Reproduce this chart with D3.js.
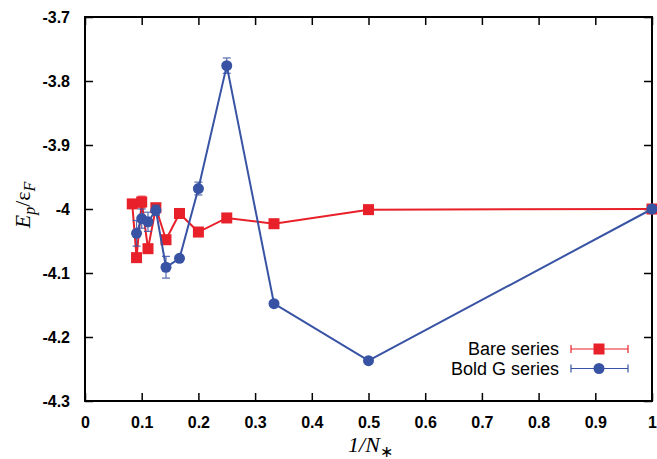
<!DOCTYPE html>
<html>
<head>
<meta charset="utf-8">
<script src="https://cdn.jsdelivr.net/npm/d3@7"></script>
<style>
  body { margin: 0; background: #fff; }
  #chart { width: 657px; height: 459px; }
</style>
</head>
<body>
<div id="chart"></div>
<script>
// Data
const bareX = [1/12, 1/11, 1/10, 1/9, 1/8, 1/7, 1/6, 1/5, 1/4, 1/3, 1/2, 1];
const bareY = [-3.992, -4.076, -3.989, -4.062, -3.998, -4.048, -4.007, -4.036, -4.014, -4.023, -4.001, -4.0];
const bareErr = [0.004, 0.004, 0.009, 0.004, 0.004, 0.004, 0.003, 0.003, 0.003, 0.003, 0.002, 0.001];

const boldX = [1/11, 1/10, 1/9, 1/8, 1/7, 1/6, 1/5, 1/4, 1/3, 1/2, 1];
const boldY = [-4.038, -4.015, -4.02, -4.002, -4.091, -4.077, -3.968, -3.776, -4.148, -4.237, -4.0];
const boldErr = [0.02, 0.015, 0.015, 0.008, 0.017, 0.004, 0.01, 0.012, 0.003, 0.003, 0.002];

const xTicks = [0, 0.1, 0.2, 0.3, 0.4, 0.5, 0.6, 0.7, 0.8, 0.9, 1];
const yTicks = [-3.7, -3.8, -3.9, -4, -4.1, -4.2, -4.3];
const seriesNames = ["Bare series", "Bold G series"];

const RED = "#e8202a";
const BLUE = "#3853a4";

const margin = {top: 17, right: 5, bottom: 58, left: 85};
const W = 657, H = 459;
const width = W - margin.left - margin.right;
const height = H - margin.top - margin.bottom;

const svg = d3.select("#chart").append("svg")
    .attr("width", W).attr("height", H);
const g = svg.append("g").attr("transform", `translate(${margin.left},${margin.top})`);

const x = d3.scaleLinear().domain([0, 1]).range([0, width]);
const y = d3.scaleLinear().domain([-4.3, -3.7]).range([height, 0]);

// Axes with inward ticks on all four sides; plain hyphen for negatives
const fmt = d => String(d);
g.append("g").attr("transform", `translate(0,${height})`)
    .call(d3.axisBottom(x).tickValues(xTicks).tickSize(-8).tickPadding(16).tickFormat(fmt))
    .call(a => a.select(".domain").remove());
g.append("g")
    .call(d3.axisTop(x).tickValues(xTicks).tickSize(-8).tickFormat(""))
    .call(a => a.select(".domain").remove());
g.append("g")
    .call(d3.axisLeft(y).tickValues(yTicks).tickSize(-8).tickPadding(15).tickFormat(fmt))
    .call(a => a.select(".domain").remove());
g.append("g").attr("transform", `translate(${width},0)`)
    .call(d3.axisRight(y).tickValues(yTicks).tickSize(-8).tickFormat(""))
    .call(a => a.select(".domain").remove());

g.selectAll(".tick line").attr("stroke", "#000").attr("stroke-width", 1.5);
g.selectAll(".tick text")
    .style("font-family", "'Liberation Sans', Arial, sans-serif")
    .style("font-size", "16px").style("font-weight", "bold").attr("fill", "#000");

g.append("rect").attr("x", 0).attr("y", 0).attr("width", width).attr("height", height)
    .attr("fill", "none").attr("stroke", "#000").attr("stroke-width", 2);

// Axis titles
svg.append("text")
    .attr("x", margin.left + width / 2 + 2).attr("y", 452)
    .attr("text-anchor", "middle")
    .style("font-family", "'Liberation Serif', 'Times New Roman', serif")
    .style("font-size", "22px").style("font-style", "italic")
    .call(t => {
        t.append("tspan").text("1/N");
        t.append("tspan").attr("dy", 5).style("font-size", "16px").style("font-style", "normal").text("\u2217");
    });

svg.append("text")
    .attr("transform", `translate(30,${margin.top + y(-4.0) - 4}) rotate(-90)`)
    .attr("text-anchor", "middle")
    .style("font-family", "'Liberation Serif', 'Times New Roman', serif")
    .style("font-size", "22px")
    .call(t => {
        t.append("tspan").style("font-style", "italic").text("E");
        t.append("tspan").attr("dy", 5).style("font-size", "16px").style("font-style", "italic").text("p");
        t.append("tspan").attr("dy", -5).text("/\u03b5");
        t.append("tspan").attr("dy", 5).style("font-size", "16px").style("font-style", "italic").text("F");
    });

function drawSeries(xs, ys, errs, color, shape) {
    const pts = xs.map((v, i) => ({x: v, y: ys[i], e: errs[i]}));
    const s = g.append("g");
    s.append("path").datum(pts)
        .attr("fill", "none").attr("stroke", color).attr("stroke-width", 2)
        .attr("d", d3.line().x(d => x(d.x)).y(d => y(d.y)));
    const eb = s.selectAll(".eb").data(pts).enter().append("g")
        .attr("stroke", color).attr("stroke-width", 1.2).attr("opacity", 0.85);
    eb.append("line").attr("x1", d => x(d.x)).attr("x2", d => x(d.x))
        .attr("y1", d => y(d.y - d.e)).attr("y2", d => y(d.y + d.e));
    eb.append("line").attr("x1", d => x(d.x) - 4).attr("x2", d => x(d.x) + 4)
        .attr("y1", d => y(d.y - d.e)).attr("y2", d => y(d.y - d.e));
    eb.append("line").attr("x1", d => x(d.x) - 4).attr("x2", d => x(d.x) + 4)
        .attr("y1", d => y(d.y + d.e)).attr("y2", d => y(d.y + d.e));
    if (shape === "square") {
        s.selectAll(".m").data(pts).enter().append("rect")
            .attr("x", d => x(d.x) - 5.5).attr("y", d => y(d.y) - 5.5)
            .attr("width", 11).attr("height", 11).attr("fill", color);
    } else {
        s.selectAll(".m").data(pts).enter().append("circle")
            .attr("cx", d => x(d.x)).attr("cy", d => y(d.y))
            .attr("r", 5.5).attr("fill", color);
    }
}

drawSeries(bareX, bareY, bareErr, RED, "square");
drawSeries(boldX, boldY, boldErr, BLUE, "circle");

// Legend
const legend = svg.append("g");
[RED, BLUE].forEach((c, i) => {
    const ly = 349 + i * 19.5;
    const row = legend.append("g");
    row.append("text").attr("x", 559).attr("y", ly).attr("dy", "0.35em")
        .attr("text-anchor", "end")
        .style("font-family", "'Liberation Sans', Arial, sans-serif")
        .style("font-size", "18px").text(seriesNames[i]);
    row.append("line").attr("x1", 571).attr("x2", 628).attr("y1", ly).attr("y2", ly)
        .attr("stroke", c).attr("stroke-width", 1.2);
    [571, 628].forEach(cx => row.append("line").attr("x1", cx).attr("x2", cx)
        .attr("y1", ly - 4).attr("y2", ly + 4).attr("stroke", c).attr("stroke-width", 1.2));
    if (i === 0) {
        row.append("rect").attr("x", 593.5).attr("y", ly - 5.5).attr("width", 11).attr("height", 11).attr("fill", c);
    } else {
        row.append("circle").attr("cx", 599).attr("cy", ly).attr("r", 5.5).attr("fill", c);
    }
});
</script>
</body>
</html>
